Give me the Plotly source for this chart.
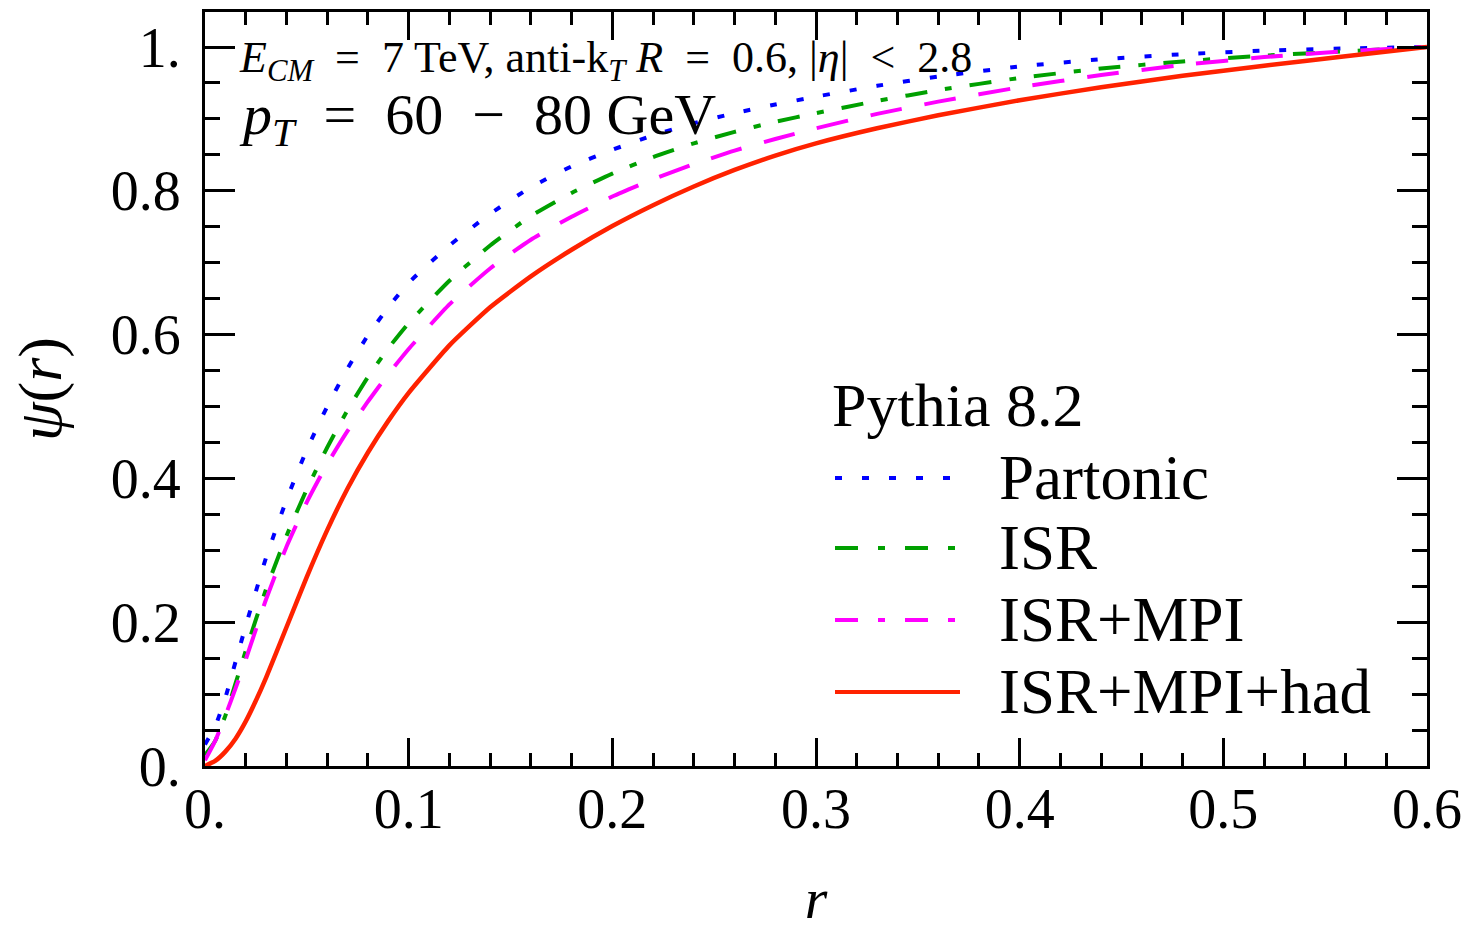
import plotly.graph_objects as go

# Integrated jet shape psi(r) for anti-kT R=0.6 jets, pT = 60-80 GeV, Pythia 8.2
r = [0.0, 0.005, 0.01, 0.015, 0.02, 0.025, 0.03, 0.04, 0.05, 0.06, 0.07, 0.08,
     0.09, 0.10, 0.12, 0.14, 0.16, 0.18, 0.20, 0.22, 0.24, 0.26, 0.28, 0.30,
     0.33, 0.36, 0.40, 0.44, 0.48, 0.52, 0.56, 0.60]

psi_partonic = [0.03, 0.055, 0.095, 0.145, 0.195, 0.243, 0.29, 0.37, 0.44, 0.50, 0.553, 0.599,
                0.638, 0.672, 0.724, 0.768, 0.805, 0.834, 0.857, 0.877, 0.894, 0.908, 0.92, 0.931,
                0.946, 0.959, 0.973, 0.983, 0.99, 0.995, 0.998, 1.0]

psi_isr = [0.015, 0.035, 0.07, 0.115, 0.16, 0.204, 0.246, 0.32, 0.385, 0.443, 0.495, 0.541,
           0.581, 0.616, 0.675, 0.724, 0.765, 0.797, 0.824, 0.847, 0.866, 0.882, 0.896, 0.908,
           0.925, 0.94, 0.957, 0.97, 0.98, 0.988, 0.994, 1.0]

psi_isr_mpi = [0.008, 0.035, 0.07, 0.108, 0.148, 0.19, 0.232, 0.305, 0.367, 0.42, 0.466, 0.507,
               0.545, 0.58, 0.642, 0.692, 0.732, 0.764, 0.792, 0.816, 0.837, 0.856, 0.872, 0.887,
               0.907, 0.924, 0.944, 0.961, 0.975, 0.986, 0.994, 1.0]

psi_isr_mpi_had = [0.0, 0.007, 0.02, 0.038, 0.062, 0.091, 0.123, 0.193, 0.263, 0.328, 0.386, 0.436,
                   0.48, 0.519, 0.585, 0.638, 0.681, 0.718, 0.751, 0.78, 0.806, 0.829, 0.849, 0.866,
                   0.887, 0.905, 0.926, 0.944, 0.96, 0.974, 0.987, 1.0]

labels = ["Partonic", "ISR", "ISR+MPI", "ISR+MPI+had"]
colors = ["#0000ff", "#00a000", "#ff00ff", "#ff2200"]
curve_dash = ["7px,20px", "22px,18px,7px,18px", "32px,23px", "solid"]
key_dash = ["7px,20px", "23px,20px,7px,20px", "23px,20px,7px,20px", "solid"]
widths = [4, 4, 4, 4.5]

x_ticks = [0.0, 0.1, 0.2, 0.3, 0.4, 0.5, 0.6]
x_ticktext = ["0.", "0.1", "0.2", "0.3", "0.4", "0.5", "0.6"]
y_ticks = [0.0, 0.2, 0.4, 0.6, 0.8, 1.0]
y_ticktext = ["0.", "0.2", "0.4", "0.6", "0.8", "1."]

FONT = "Liberation Serif"
SP = "&nbsp;"

fig = go.Figure()
for ys, name, col, dash, w in zip(
        [psi_partonic, psi_isr, psi_isr_mpi, psi_isr_mpi_had],
        labels, colors, curve_dash, widths):
    fig.add_trace(go.Scatter(x=r, y=ys, mode="lines", name=name,
                             line=dict(color=col, width=w, dash=dash, shape="spline", smoothing=0.5),
                             showlegend=False))

W, H = 1462, 931
L, R, T, B = 205, 35, 12, 165
pw, ph = W - L - R, H - T - B


def px(xp):
    return (xp - L) / pw


def py(yp):
    return (H - B - yp) / ph


axis_common = dict(
    showgrid=False, zeroline=False, showline=True, linecolor="black", linewidth=3,
    mirror="allticks", ticks="inside", tickcolor="black", tickwidth=2.5, automargin=False,
    tickfont=dict(family=FONT, size=56, color="black"),
)

fig.update_xaxes(range=[0, 0.6], tickvals=x_ticks, ticktext=x_ticktext, ticklen=28,
                 ticklabelstandoff=-8,
                 minor=dict(dtick=0.02, ticklen=13, ticks="inside", tickwidth=2.5, tickcolor="black"),
                 title=dict(text="<i>r</i>", font=dict(family=FONT, size=58), standoff=72),
                 **axis_common)
fig.update_yaxes(range=[0, 1.0487], tickvals=y_ticks, ticktext=y_ticktext, ticklen=30,
                 ticklabelstandoff=10,
                 minor=dict(dtick=0.05, ticklen=15, ticks="inside", tickwidth=2.5, tickcolor="black"),
                 title=dict(text="<i>ψ</i>(<i>r</i>)", font=dict(family=FONT, size=62), standoff=30),
                 **axis_common)

# Header text
eq = SP + "= " + SP
fig.add_annotation(x=px(237), y=py(60), xref="paper", yref="paper", xanchor="left", yanchor="middle",
                   showarrow=False,
                   text=("<i>E</i><sub><i>CM</i></sub> " + eq + "7 TeV, anti-k<sub><i>T</i></sub> <i>R</i> "
                         + eq + "0.6, |<i>η</i>| " + SP + "&lt; " + SP + "2.8"),
                   font=dict(family=FONT, size=44, color="black"))
fig.add_annotation(x=px(237), y=py(118), xref="paper", yref="paper", xanchor="left", yanchor="middle",
                   showarrow=False,
                   text="<i>p</i><sub><i>T</i></sub> " + eq + "60 " + SP + "− " + SP + "80 GeV",
                   font=dict(family=FONT, size=58, color="black"))

# Hand-drawn key
fig.add_annotation(x=px(830), y=py(405), xref="paper", yref="paper", xanchor="left", yanchor="middle",
                   showarrow=False, text="Pythia 8.2", font=dict(family=FONT, size=62, color="black"))
rows = [478, 548, 620, 692]
for yrow, name, col, dash in zip(rows, labels, colors, key_dash):
    fig.add_shape(type="line", xref="paper", yref="paper", x0=px(835), x1=px(960), y0=py(yrow), y1=py(yrow),
                  line=dict(color=col, width=4, dash=dash))
    fig.add_annotation(x=px(997), y=py(yrow), xref="paper", yref="paper", xanchor="left", yanchor="middle",
                       showarrow=False, text=name, font=dict(family=FONT, size=63, color="black"))

fig.update_layout(width=W, height=H, margin=dict(l=L, r=R, t=T, b=B),
                  plot_bgcolor="white", paper_bgcolor="white",
                  font=dict(family=FONT, color="black"))

fig.write_html("out.html")
